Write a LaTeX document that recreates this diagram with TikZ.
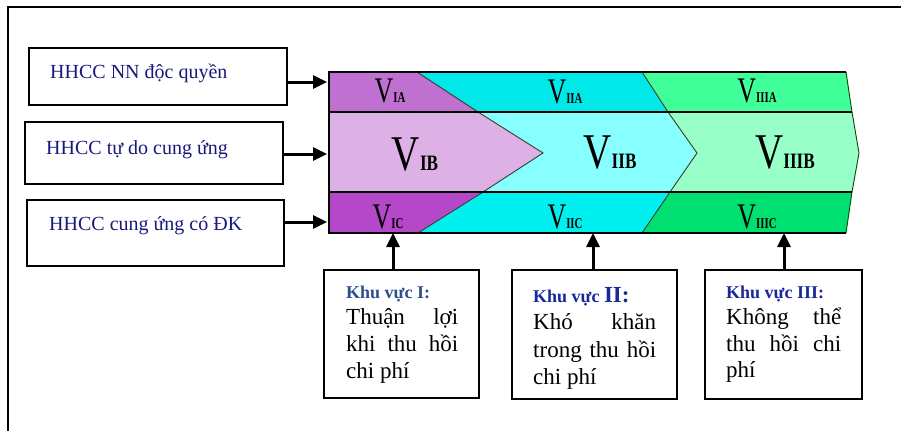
\documentclass[tikz,border=0pt]{standalone}
\usepackage{fontspec}
\usepackage{graphicx}
\setmainfont{Liberation Serif}
\usetikzlibrary{arrows.meta}
\definecolor{cIA}{HTML}{C070D0}
\definecolor{cIB}{HTML}{DDB0E6}
\definecolor{cIC}{HTML}{B548C8}
\definecolor{cIIA}{HTML}{00E8E8}
\definecolor{cIIB}{HTML}{88FFFF}
\definecolor{cIIC}{HTML}{00F0F0}
\definecolor{cIIIA}{HTML}{40FF98}
\definecolor{cIIIB}{HTML}{98FFC8}
\definecolor{cIIIC}{HTML}{00E070}
\definecolor{navy}{RGB}{25,25,125}
\definecolor{kvone}{RGB}{45,80,140}
\definecolor{kvblue}{RGB}{25,40,155}
\definecolor{edgeol}{HTML}{3C3C28}
\newcommand{\vsmall}[1]{\scalebox{0.72}[1]{\fontsize{36}{36}\selectfont V\fontsize{15}{15}\selectfont\bfseries #1}}
\newcommand{\vbig}[1]{\scalebox{0.78}[1]{\fontsize{50}{50}\selectfont V\fontsize{22}{22}\selectfont\bfseries #1}}
\tikzset{
  box/.style={draw=black, line width=2pt, fill=white, inner sep=0pt},
  arr/.style={line width=3pt, -{Triangle[length=14pt,width=13pt]}},
  lab/.style={inner sep=0pt, anchor=base},
  lefttext/.style={inner sep=0pt, anchor=base west, text=navy, font=\fontsize{20}{23}\selectfont},
  kv/.style={inner sep=0pt, anchor=base west, font=\fontsize{18}{20}\selectfont\bfseries},
  body/.style={inner sep=0pt, anchor=base west, font=\fontsize{23}{27}\selectfont},
  sep/.style={draw=black, line width=1.2pt},
  diag/.style={draw=edgeol, line width=0.9pt}
}
\begin{document}
\begin{tikzpicture}[x=1pt,y=-1pt]
\useasboundingbox (0,0) rectangle (901,431);
% outer frame
\draw[line width=2pt] (901,7) -- (8,7) -- (8,431);
% band regions
\fill[cIA] (329,72) -- (417,72) -- (478,112) -- (329,112) -- cycle;
\fill[cIB] (329,112) -- (478,112) -- (543,153) -- (483,192) -- (329,192) -- cycle;
\fill[cIC] (329,192) -- (483,192) -- (418,233) -- (329,233) -- cycle;
\fill[cIIA] (417,72) -- (642,72) -- (668,112) -- (478,112) -- cycle;
\fill[cIIB] (478,112) -- (668,112) -- (697,153) -- (670,192) -- (483,192) -- (543,153) -- cycle;
\fill[cIIC] (483,192) -- (670,192) -- (642,233) -- (418,233) -- cycle;
\fill[cIIIA] (642,72) -- (846,72) -- (852,112) -- (668,112) -- cycle;
\fill[cIIIB] (668,112) -- (852,112) -- (859,153) -- (852,192) -- (670,192) -- (697,153) -- cycle;
\fill[cIIIC] (670,192) -- (852,192) -- (846,233) -- (642,233) -- cycle;
% boundaries
\draw[diag] (417,72) -- (478,112) -- (543,153) -- (483,192) -- (418,233);
\draw[diag] (642,72) -- (668,112) -- (697,153) -- (670,192) -- (642,233);
\draw[draw=black!70!green, line width=0.9pt] (846,72) -- (852,112) -- (859,153) -- (852,192) -- (846,233);
\draw[sep] (846,72) -- (329,72) -- (329,233) -- (846,233);
\draw[sep] (329,112) -- (852,112);
\draw[sep] (329,192) -- (852,192);
% V labels
\node[lab] (via) at (390,102) {\vsmall{IA}};
\node[lab] (viia) at (565,103) {\vsmall{IIA}};
\node[lab] (viiia) at (757,102) {\vsmall{IIIA}};
\node[lab] (vib) at (415,170) {\vbig{IB}};
\node[lab] (viib) at (610,168) {\vbig{IIB}};
\node[lab] (viiib) at (785,168) {\vbig{IIIB}};
\node[lab] (vic) at (388,228) {\vsmall{IC}};
\node[lab] (viic) at (565,228) {\vsmall{IIC}};
\node[lab] (viiic) at (757,228) {\vsmall{IIIC}};
% left boxes
\node[box, minimum width=258pt, minimum height=57pt] (b1) at (158,76.5) {};
\node[box, minimum width=258pt, minimum height=62pt] (b2) at (154,153) {};
\node[box, minimum width=257pt, minimum height=66pt] (b3) at (155.5,233) {};
\node[lefttext] (t1) at (50,78) {HHCC NN độc quyền};
\node[lefttext] (t2) at (46,154) {HHCC tự do cung ứng};
\node[lefttext] (t3) at (49,230) {HHCC cung ứng có ĐK};
\coordinate (a1) at (327,82);
\coordinate (a2) at (327,154);
\coordinate (a3) at (327,222);
\draw[arr] (b1.east |- a1) -- (a1);
\draw[arr] (b2.east |- a2) -- (a2);
\draw[arr] (b3.east |- a3) -- (a3);
% bottom boxes
\node[box, minimum width=155pt, minimum height=128pt] (k1) at (401.5,334) {};
\node[box, minimum width=165pt, minimum height=129pt] (k2) at (594.5,334.5) {};
\node[box, minimum width=157pt, minimum height=129pt] (k3) at (783.5,334.5) {};
\coordinate (u1) at (393,233);
\coordinate (u2) at (593,233);
\coordinate (u3) at (784,233);
\draw[arr] (k1.north -| u1) -- (u1);
\draw[arr] (k2.north -| u2) -- (u2);
\draw[arr] (k3.north -| u3) -- (u3);
% box I text
\node[kv, text=kvone] (h1) at (346,298) {Khu vực I:};
\node[body] (l11) at (346,324) {\makebox[112pt][s]{Thuận lợi}};
\node[body] (l12) at (346,351) {\makebox[112pt][s]{khi thu hồi}};
\node[body] (l13) at (346,378) {chi phí};
% box II text
\node[kv, text=kvblue] (h2) at (533,302) {Khu vực {\fontsize{23}{23}\selectfont II:}};
\node[body] (l21) at (533,329) {\makebox[123pt][s]{Khó khăn}};
\node[body] (l22) at (533,357) {\makebox[123pt][s]{trong thu hồi}};
\node[body] (l23) at (533,384) {chi phí};
% box III text
\node[kv, text=kvblue] (h3) at (726,298) {Khu vực III:};
\node[body] (l31) at (726,324) {\makebox[115pt][s]{Không thể}};
\node[body] (l32) at (726,351) {\makebox[115pt][s]{thu hồi chi}};
\node[body] (l33) at (726,377) {phí};
\end{tikzpicture}
\end{document}
